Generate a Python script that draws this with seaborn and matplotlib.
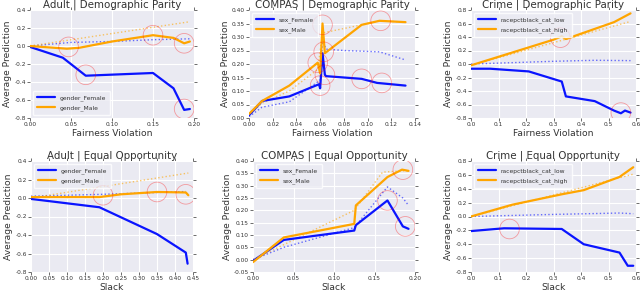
import matplotlib
matplotlib.use("Agg")
import matplotlib.pyplot as plt
import seaborn as sns

# ---- Adult | Demographic Parity
adult_dp_x_blue = [0.0, 0.040, 0.068, 0.150, 0.175, 0.188, 0.195]
adult_dp_y_blue = [-0.01, -0.13, -0.33, -0.30, -0.47, -0.71, -0.70]
adult_dp_x_orange = [0.0, 0.045, 0.060, 0.100, 0.150, 0.175, 0.188, 0.195]
adult_dp_y_orange = [0.0, -0.03, -0.02, 0.05, 0.12, 0.09, 0.03, 0.05]
adult_dp_x_bdot = [0.0, 0.05, 0.10, 0.15, 0.195]
adult_dp_y_bdot = [0.0, 0.04, 0.05, 0.07, 0.08]
adult_dp_x_odot = [0.0, 0.195]
adult_dp_y_odot = [0.0, 0.27]
adult_dp_cx = [0.047, 0.068, 0.150, 0.188, 0.188]
adult_dp_cy = [-0.01, -0.32, 0.12, 0.03, -0.70]

# ---- COMPAS | Demographic Parity
compas_dp_x_blue = [0.0, 0.011, 0.034, 0.059, 0.060, 0.062, 0.064, 0.065, 0.095, 0.108, 0.132]
compas_dp_y_blue = [0.01, 0.063, 0.08, 0.125, 0.11, 0.24, 0.16, 0.155, 0.145, 0.13, 0.12]
compas_dp_x_orange = [0.0, 0.011, 0.034, 0.058, 0.060, 0.062, 0.064, 0.095, 0.110, 0.132]
compas_dp_y_orange = [0.015, 0.063, 0.12, 0.205, 0.165, 0.35, 0.24, 0.345, 0.36, 0.355]
compas_dp_x_bdot = [0.0, 0.011, 0.034, 0.060, 0.062, 0.065, 0.080, 0.110, 0.132]
compas_dp_y_bdot = [0.005, 0.04, 0.06, 0.14, 0.29, 0.255, 0.25, 0.245, 0.215]
compas_dp_x_odot = [0.0, 0.011, 0.034, 0.058, 0.062, 0.095, 0.110, 0.132]
compas_dp_y_odot = [0.01, 0.055, 0.10, 0.18, 0.315, 0.345, 0.36, 0.355]
compas_dp_cx = [0.058, 0.060, 0.062, 0.063, 0.064, 0.095, 0.111, 0.112]
compas_dp_cy = [0.205, 0.12, 0.345, 0.245, 0.16, 0.145, 0.36, 0.13]

# ---- Crime | Demographic Parity
crime_dp_x_blue = [0.0, 0.07, 0.21, 0.33, 0.345, 0.45, 0.52, 0.545, 0.56, 0.58]
crime_dp_y_blue = [-0.07, -0.07, -0.11, -0.26, -0.48, -0.55, -0.69, -0.73, -0.69, -0.72]
crime_dp_x_orange = [0.0, 0.30, 0.33, 0.345, 0.45, 0.52, 0.58]
crime_dp_y_orange = [-0.02, 0.36, 0.41, 0.37, 0.52, 0.62, 0.75]
crime_dp_x_bdot = [0.0, 0.30, 0.45, 0.58]
crime_dp_y_bdot = [0.0, 0.04, 0.055, 0.05]
crime_dp_x_odot = [0.0, 0.58]
crime_dp_y_odot = [-0.02, 0.63]
crime_dp_cx = [0.325, 0.545]
crime_dp_cy = [0.39, -0.72]

# ---- Adult | Equal Opportunity
adult_eo_x_blue = [0.0, 0.19, 0.35, 0.43, 0.435]
adult_eo_y_blue = [-0.01, -0.10, -0.39, -0.59, -0.71]
adult_eo_x_orange = [0.0, 0.19, 0.25, 0.35, 0.43, 0.437]
adult_eo_y_orange = [0.01, 0.01, 0.04, 0.065, 0.06, 0.03]
adult_eo_x_bdot = [0.0, 0.20, 0.43]
adult_eo_y_bdot = [0.02, 0.04, 0.07]
adult_eo_x_odot = [0.0, 0.437]
adult_eo_y_odot = [0.0, 0.27]
adult_eo_cx = [0.20, 0.35, 0.43]
adult_eo_cy = [0.03, 0.065, 0.04]

# ---- COMPAS | Equal Opportunity
compas_eo_x_blue = [0.0, 0.038, 0.125, 0.127, 0.166, 0.185, 0.192]
compas_eo_y_blue = [-0.005, 0.08, 0.118, 0.14, 0.24, 0.135, 0.125]
compas_eo_x_orange = [0.0, 0.038, 0.125, 0.127, 0.166, 0.184, 0.192]
compas_eo_y_orange = [-0.01, 0.09, 0.145, 0.22, 0.335, 0.365, 0.36]
compas_eo_x_bdot = [0.0, 0.038, 0.125, 0.166, 0.185, 0.192]
compas_eo_y_bdot = [0.0, 0.05, 0.13, 0.295, 0.25, 0.22]
compas_eo_x_odot = [0.0, 0.125, 0.160, 0.184, 0.192]
compas_eo_y_odot = [0.0, 0.20, 0.355, 0.36, 0.36]
compas_eo_cx = [0.166, 0.185, 0.188]
compas_eo_cy = [0.24, 0.365, 0.135]

# ---- Crime | Equal Opportunity
crime_eo_x_blue = [0.0, 0.12, 0.33, 0.41, 0.54, 0.57, 0.59]
crime_eo_y_blue = [-0.21, -0.17, -0.18, -0.40, -0.52, -0.71, -0.71]
crime_eo_x_orange = [0.0, 0.15, 0.33, 0.41, 0.54, 0.59]
crime_eo_y_orange = [0.0, 0.17, 0.32, 0.38, 0.57, 0.71]
crime_eo_x_bdot = [0.0, 0.30, 0.54, 0.59]
crime_eo_y_bdot = [0.0, 0.03, 0.05, 0.04]
crime_eo_x_odot = [0.0, 0.59]
crime_eo_y_odot = [0.0, 0.61]
crime_eo_cx = [0.14]
crime_eo_cy = [-0.18]

BLUE = "#0a14ff"
ORANGE = "#ffa500"

sns.set_style("darkgrid", {"axes.facecolor": "#eaeaf2", "grid.color": "white"})
plt.rcParams['font.family'] = ['DejaVu Sans']

fig = plt.figure(figsize=(6.4, 2.91), dpi=100)

panels = [
    dict(pos=[30, 10, 194, 118], title="Adult | Demographic Parity", xlabel="Fairness Violation",
         labels=("gender_Female", "gender_Male"), leg="lower left",
         xlim=(0, 0.2), xticks=[0, 0.05, 0.10, 0.15, 0.20], xfmt="{:.2f}",
         ylim=(-0.8, 0.4), yticks=[-0.8, -0.6, -0.4, -0.2, 0.0, 0.2, 0.4], yfmt="{:.1f}",
         d=(adult_dp_x_blue, adult_dp_y_blue, adult_dp_x_orange, adult_dp_y_orange,
            adult_dp_x_bdot, adult_dp_y_bdot, adult_dp_x_odot, adult_dp_y_odot, adult_dp_cx, adult_dp_cy)),
    dict(pos=[249, 10, 415, 118], title="COMPAS | Demographic Parity", xlabel="Fairness Violation",
         labels=("sex_Female", "sex_Male"), leg="upper left",
         xlim=(0, 0.14), xticks=[0, 0.02, 0.04, 0.06, 0.08, 0.10, 0.12, 0.14], xfmt="{:.2f}",
         ylim=(0, 0.4), yticks=[0, 0.05, 0.10, 0.15, 0.20, 0.25, 0.30, 0.35, 0.40], yfmt="{:.2f}",
         d=(compas_dp_x_blue, compas_dp_y_blue, compas_dp_x_orange, compas_dp_y_orange,
            compas_dp_x_bdot, compas_dp_y_bdot, compas_dp_x_odot, compas_dp_y_odot, compas_dp_cx, compas_dp_cy)),
    dict(pos=[471, 10, 636, 118], title="Crime | Demographic Parity", xlabel="Fairness Violation",
         labels=("racepctblack_cat_low", "racepctblack_cat_high"), leg="upper left",
         xlim=(0, 0.6), xticks=[0, 0.1, 0.2, 0.3, 0.4, 0.5, 0.6], xfmt="{:.1f}",
         ylim=(-0.8, 0.8), yticks=[-0.8, -0.6, -0.4, -0.2, 0.0, 0.2, 0.4, 0.6, 0.8], yfmt="{:.1f}",
         d=(crime_dp_x_blue, crime_dp_y_blue, crime_dp_x_orange, crime_dp_y_orange,
            crime_dp_x_bdot, crime_dp_y_bdot, crime_dp_x_odot, crime_dp_y_odot, crime_dp_cx, crime_dp_cy)),
    dict(pos=[31, 161, 193, 272], title="Adult | Equal Opportunity", xlabel="Slack",
         labels=("gender_Female", "gender_Male"), leg="upper left",
         xlim=(0, 0.45), xticks=[0, 0.05, 0.10, 0.15, 0.20, 0.25, 0.30, 0.35, 0.40, 0.45], xfmt="{:.2f}",
         ylim=(-0.8, 0.4), yticks=[-0.8, -0.6, -0.4, -0.2, 0.0, 0.2, 0.4], yfmt="{:.1f}",
         d=(adult_eo_x_blue, adult_eo_y_blue, adult_eo_x_orange, adult_eo_y_orange,
            adult_eo_x_bdot, adult_eo_y_bdot, adult_eo_x_odot, adult_eo_y_odot, adult_eo_cx, adult_eo_cy)),
    dict(pos=[253, 161, 415, 272], title="COMPAS | Equal Opportunity", xlabel="Slack",
         labels=("sex_Female", "sex_Male"), leg="upper left",
         xlim=(0, 0.2), xticks=[0, 0.05, 0.10, 0.15, 0.20], xfmt="{:.2f}",
         ylim=(-0.05, 0.4), yticks=[-0.05, 0, 0.05, 0.10, 0.15, 0.20, 0.25, 0.30, 0.35, 0.40], yfmt="{:.2f}",
         d=(compas_eo_x_blue, compas_eo_y_blue, compas_eo_x_orange, compas_eo_y_orange,
            compas_eo_x_bdot, compas_eo_y_bdot, compas_eo_x_odot, compas_eo_y_odot, compas_eo_cx, compas_eo_cy)),
    dict(pos=[471, 161, 636, 272], title="Crime | Equal Opportunity", xlabel="Slack",
         labels=("racepctblack_cat_low", "racepctblack_cat_high"), leg="upper left",
         xlim=(0, 0.6), xticks=[0, 0.1, 0.2, 0.3, 0.4, 0.5, 0.6], xfmt="{:.1f}",
         ylim=(-0.8, 0.8), yticks=[-0.8, -0.6, -0.4, -0.2, 0.0, 0.2, 0.4, 0.6, 0.8], yfmt="{:.1f}",
         d=(crime_eo_x_blue, crime_eo_y_blue, crime_eo_x_orange, crime_eo_y_orange,
            crime_eo_x_bdot, crime_eo_y_bdot, crime_eo_x_odot, crime_eo_y_odot, crime_eo_cx, crime_eo_cy)),
]

W, H = 640, 291
for p in panels:
    x0, y0, x1, y1 = p["pos"]
    ax = fig.add_axes([x0 / W, 1 - y1 / H, (x1 - x0) / W, (y1 - y0) / H])
    xb, yb, xo, yo, xbd, ybd, xod, yod, cx, cy = p["d"]
    sns.lineplot(x=xbd, y=ybd, ax=ax, color=BLUE, lw=1.0, ls=":", alpha=0.6, sort=False, estimator=None)
    sns.lineplot(x=xod, y=yod, ax=ax, color=ORANGE, lw=1.0, ls=":", alpha=0.6, sort=False, estimator=None)
    sns.lineplot(x=xb, y=yb, ax=ax, color=BLUE, lw=1.6, sort=False, estimator=None, label=p["labels"][0])
    sns.lineplot(x=xo, y=yo, ax=ax, color=ORANGE, lw=1.6, sort=False, estimator=None, label=p["labels"][1])
    sns.scatterplot(x=cx, y=cy, ax=ax, s=200, facecolor="none", edgecolor="red",
                    linewidth=0.6, alpha=0.35, zorder=5)
    ax.set_xlim(*p["xlim"])
    ax.set_ylim(*p["ylim"])
    ax.set_xticks(p["xticks"])
    ax.set_xticklabels([p["xfmt"].format(v) for v in p["xticks"]])
    ax.set_yticks(p["yticks"])
    ax.set_yticklabels([p["yfmt"].format(v) for v in p["yticks"]])
    ax.tick_params(labelsize=4.2, pad=1, length=2, width=0.5, direction="out",
                   top=True, right=True, bottom=True, left=True, colors="#333333")
    ax.grid(True, color="white", lw=0.8)
    ax.set_title(p["title"], fontsize=7.4, pad=1.5, color="#333333")
    ax.set_xlabel(p["xlabel"], fontsize=6.6, labelpad=1.5, color="#333333")
    ax.set_ylabel("Average Prediction", fontsize=6.6, labelpad=1.5, color="#333333")
    for s in ax.spines.values():
        s.set_visible(False)
    leg = ax.legend(loc=p["leg"], fontsize=4.3, frameon=True, facecolor="#eaeaf2",
                    edgecolor="white", handlelength=3.0, borderpad=0.7, labelspacing=0.7)
    for t in leg.get_texts():
        t.set_color("#333333")

fig.savefig("out.png", dpi=100)
